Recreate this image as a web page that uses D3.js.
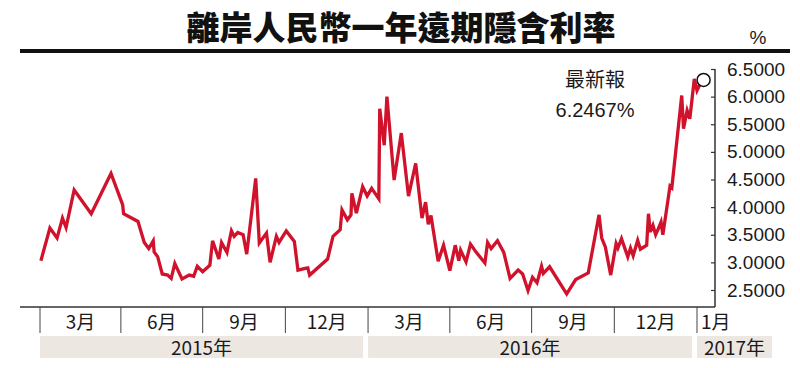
<!DOCTYPE html>
<html>
<head>
<meta charset="utf-8">
<script src="https://cdnjs.cloudflare.com/ajax/libs/d3/7.8.5/d3.min.js"></script>
<style>
  body { margin: 0; background: #fff; }
  svg text { font-family: "Liberation Sans", Arial, sans-serif; fill: #1a1a1a; }
  .cjk { font-family: "Noto Sans CJK TC", "Noto Sans CJK SC", sans-serif; }
</style>
</head>
<body>
<script>
// 離岸人民幣一年遠期隱含利率 (%)
var dates = ['2015-01-02','2015-01-12','2015-01-20','2015-01-26','2015-01-30','2015-02-08','2015-02-27','2015-03-21',
  '2015-04-03','2015-04-04','2015-04-20','2015-04-27','2015-05-02','2015-05-07','2015-05-08','2015-05-12','2015-05-17',
  '2015-05-23','2015-05-27','2015-05-31','2015-06-08','2015-06-16','2015-06-21','2015-06-25','2015-07-01','2015-07-09',
  '2015-07-12','2015-07-19','2015-07-22','2015-07-28','2015-08-02','2015-08-05','2015-08-09','2015-08-15','2015-08-19',
  '2015-08-29','2015-09-02','2015-09-10','2015-09-14','2015-09-21','2015-09-24','2015-10-02','2015-10-11','2015-10-15',
  '2015-10-23','2015-10-26','2015-10-28','2015-11-17','2015-11-23','2015-12-01','2015-12-03','2015-12-09','2015-12-13',
  '2015-12-14','2015-12-19','2015-12-26','2015-12-31','2016-01-05','2016-01-13','2016-01-14','2016-01-19','2016-01-22',
  '2016-01-30','2016-02-07','2016-02-15','2016-02-23','2016-03-01','2016-03-05','2016-03-08','2016-03-11','2016-03-19',
  '2016-03-25','2016-04-01','2016-04-07','2016-04-11','2016-04-13','2016-04-19','2016-04-24','2016-04-30','2016-05-10',
  '2016-05-13','2016-05-17','2016-05-24','2016-05-31','2016-06-07','2016-06-16','2016-06-21','2016-06-27','2016-07-02',
  '2016-07-07','2016-07-12','2016-07-14','2016-07-21','2016-08-09','2016-08-19','2016-09-02','2016-09-14','2016-09-17',
  '2016-09-21','2016-09-27','2016-10-03','2016-10-05','2016-10-09','2016-10-13','2016-10-16','2016-10-19','2016-10-22',
  '2016-10-27','2016-10-30','2016-11-06','2016-11-08','2016-11-10','2016-11-13','2016-11-16','2016-11-19','2016-11-22',
  '2016-11-24','2016-12-02','2016-12-04','2016-12-15','2016-12-17','2016-12-21','2016-12-24','2016-12-29','2017-01-01',
  '2017-01-05']
var rates = [3.03,3.62,3.44,3.80,3.63,4.31,3.88,4.61,
  4.04,3.88,3.74,3.36,3.25,3.39,3.19,3.10,2.79,
  2.77,2.71,2.98,2.70,2.77,2.75,2.93,2.83,2.95,
  3.39,3.06,3.36,3.18,3.57,3.47,3.54,3.50,3.15,
  4.52,3.35,3.53,3.00,3.47,3.36,3.57,3.38,2.86,
  2.89,2.90,2.77,3.06,3.47,3.59,3.95,3.77,3.86,
  4.25,3.89,4.37,4.20,4.34,4.15,5.78,5.12,6.00,
  4.49,5.34,4.20,4.79,3.80,4.09,3.69,3.85,3.02,
  3.31,2.85,3.31,3.03,3.22,3.01,3.33,3.19,2.99,
  3.36,3.25,3.39,3.18,2.71,2.86,2.79,2.49,2.73,
  2.63,2.93,2.80,2.92,2.43,2.69,2.81,3.86,3.44,
  3.28,2.77,3.34,3.26,3.43,3.24,3.10,3.26,3.12,
  3.40,3.24,3.31,3.88,3.55,3.67,3.50,3.61,3.73,
  3.50,4.38,4.35,6.02,5.42,5.75,5.60,6.32,6.11,
  6.2467]
var yTicks = [2.5,3.0,3.5,4.0,4.5,5.0,5.5,6.0,6.5]
var quarterLabels = ['3月','6月','9月','12月','3月','6月','9月','12月','1月']
var years = ['2015年','2016年','2017年']
var yearStarts = ['2015-01-01','2016-01-01','2017-01-01']
var title = '離岸人民幣一年遠期隱含利率'
var latestLabel = '最新報'
var latestValue = '6.2467%'

var parse = d3.timeParse('%Y-%m-%d')
var data = dates.map(function(d, i){ return {date: parse(d), value: rates[i]} })

var W = 800, H = 368
var svg = d3.select('body').append('svg')
  .attr('width', W)
  .attr('height', H)

// scales
var x = d3.scaleTime()
  .domain([parse('2015-01-01'), parse('2017-01-01')])
  .range([40, 697])
var y = d3.scaleLinear()
  .domain([2.5, 6.5])
  .range([290, 69])
var axisX = 715, baseY = 307

// title
svg.append('text')
  .attr('class', 'cjk')
  .attr('x', 401)
  .attr('y', 40)
  .attr('text-anchor', 'middle')
  .style('font-size', '33px')
  .style('font-weight', 900)
  .style('fill', '#111')
  .text(title)
svg.append('text')
  .attr('x', 758)
  .attr('y', 44)
  .attr('text-anchor', 'middle')
  .style('font-size', '19px')
  .text('%')
svg.append('rect')
  .attr('x', 20).attr('y', 49)
  .attr('width', 770).attr('height', 4)
  .attr('fill', '#111')

// right axis
var yAxis = d3.axisRight(y)
  .tickValues(yTicks)
  .tickFormat(d3.format('.4f'))
  .tickSizeInner(-4)
  .tickSizeOuter(0)
  .tickPadding(12)
var gy = svg.append('g')
  .attr('transform', 'translate(' + axisX + ',0)')
  .call(yAxis)
gy.select('.domain').remove()
gy.selectAll('.tick line').attr('stroke', '#333').attr('stroke-width', 1.2)
gy.selectAll('.tick text')
  .style('font-size', '19px')
  .style('font-family', '"Liberation Sans", Arial, sans-serif')
  .attr('fill', '#1a1a1a')
svg.append('line')
  .attr('x1', axisX).attr('x2', axisX)
  .attr('y1', y(6.5)).attr('y2', baseY)
  .attr('stroke', '#333').attr('stroke-width', 1.5)

// bottom axis
svg.append('line')
  .attr('x1', 20).attr('x2', axisX)
  .attr('y1', baseY).attr('y2', baseY)
  .attr('stroke', '#333').attr('stroke-width', 1.5)
var qTicks = d3.timeMonth.every(3).range(parse('2015-01-01'), parse('2017-01-02'))
svg.selectAll('.qtick')
  .data(qTicks)
  .enter()
  .append('line')
  .attr('class', 'qtick')
  .attr('x1', function(d){ return x(d) }).attr('x2', function(d){ return x(d) })
  .attr('y1', baseY).attr('y2', 333)
  .attr('stroke', '#444').attr('stroke-width', 1)
svg.selectAll('.qlabel')
  .data(quarterLabels)
  .enter()
  .append('text')
  .attr('class', 'qlabel cjk')
  .attr('x', function(d, i){
    if (i < qTicks.length - 1) return (x(qTicks[i]) + x(qTicks[i + 1])) / 2
    return x(qTicks[i]) + 4
  })
  .attr('y', 329)
  .attr('text-anchor', function(d, i){ return i < qTicks.length - 1 ? 'middle' : 'start' })
  .style('font-size', '19px')
  .text(function(d){ return d })

// year bands
var bandEnds = [x(parse(yearStarts[1])) - 5, x(parse(yearStarts[2])) - 5, 772]
var yb = svg.selectAll('.year')
  .data(years)
  .enter()
  .append('g')
  .attr('class', 'year')
yb.append('rect')
  .attr('x', function(d, i){ return x(parse(yearStarts[i])) })
  .attr('y', 336)
  .attr('width', function(d, i){ return bandEnds[i] - x(parse(yearStarts[i])) })
  .attr('height', 22)
  .attr('fill', '#ece8e1')
yb.append('text')
  .attr('class', 'cjk')
  .attr('x', function(d, i){ return (x(parse(yearStarts[i])) + bandEnds[i]) / 2 })
  .attr('y', 354.5)
  .attr('text-anchor', 'middle')
  .style('font-size', '19px')
  .text(function(d){ return d })

// line
var line = d3.line()
  .x(function(d){ return x(d.date) })
  .y(function(d){ return y(d.value) })
svg.append('path')
  .datum(data)
  .attr('d', line)
  .attr('fill', 'none')
  .attr('stroke', '#d0122c')
  .attr('stroke-width', 3.3)
  .attr('stroke-linejoin', 'miter')

// latest marker
var last = data[data.length - 1]
svg.append('circle')
  .attr('cx', x(last.date) + 3)
  .attr('cy', y(last.value) - 3)
  .attr('r', 6.5)
  .attr('fill', '#fff')
  .attr('stroke', '#111')
  .attr('stroke-width', 1.5)
svg.append('text')
  .attr('class', 'cjk')
  .attr('x', 595)
  .attr('y', 87)
  .attr('text-anchor', 'middle')
  .style('font-size', '20px')
  .text(latestLabel)
svg.append('text')
  .attr('x', 595)
  .attr('y', 117)
  .attr('text-anchor', 'middle')
  .style('font-size', '20px')
  .text(latestValue)
</script>
</body>
</html>
